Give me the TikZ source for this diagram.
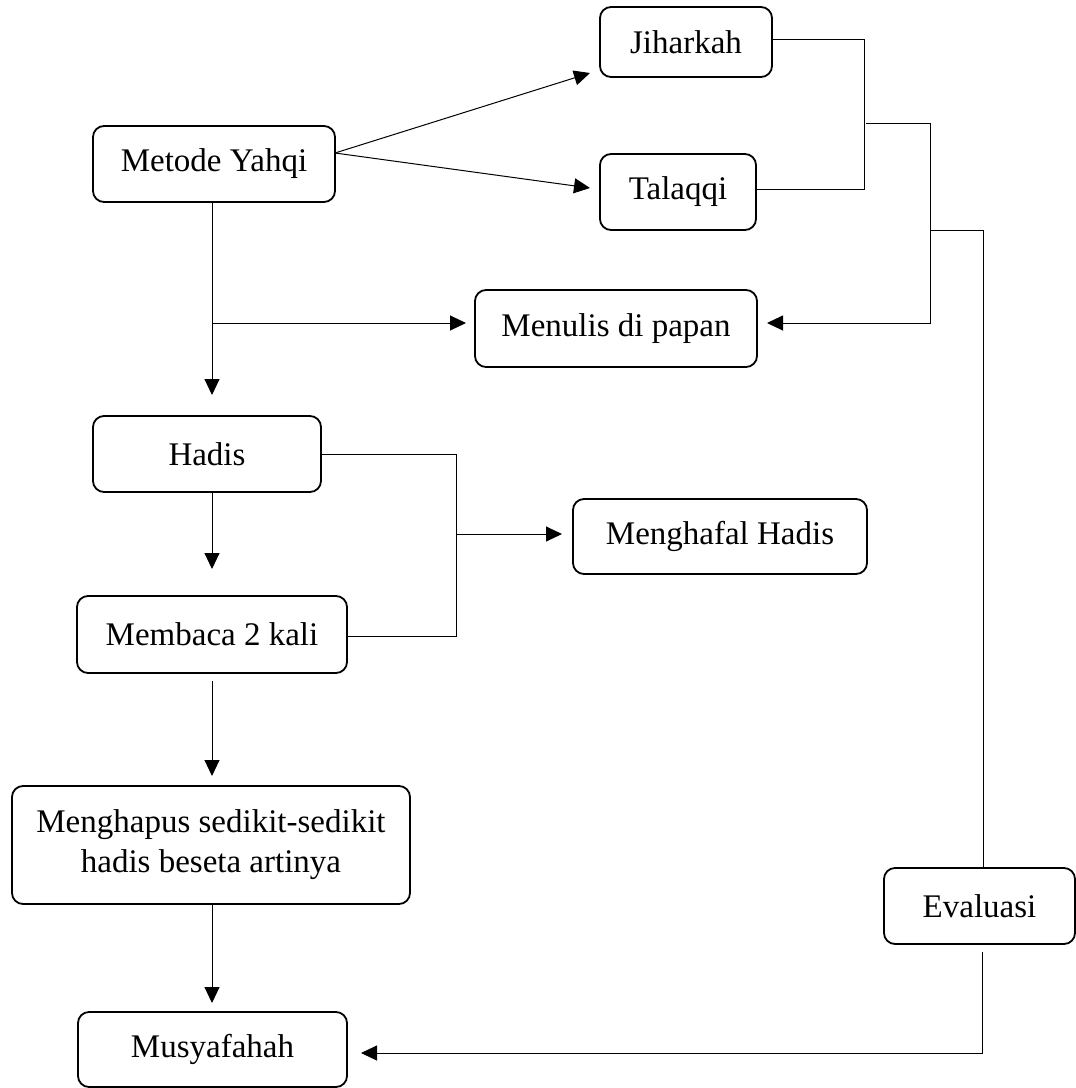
\documentclass[tikz,border=0pt]{standalone}
\usepackage{fontspec}
\setmainfont{Liberation Serif}
\usetikzlibrary{arrows.meta}
\begin{document}
\begin{tikzpicture}[x=1pt,y=-1pt,
  box/.style={draw, line width=1.8pt, rounded corners=11pt, rectangle, inner sep=0pt, align=center,
    font=\fontsize{33}{40}\selectfont},
  conn/.style={line width=1pt},
  arr/.style={line width=1pt, -{Triangle[length=16pt,width=15pt]}}]
\useasboundingbox (0,0) rectangle (1076,1088);
% nodes
\node[box, minimum width=242pt, minimum height=76pt] (metode) at (214,164) {Metode Yahqi};
\node[box, minimum width=172pt, minimum height=70pt] (jihar) at (686,42) {Jiharkah};
\node[box, minimum width=156pt, minimum height=76pt] (talaqqi) at (678,192) {Talaqqi};
\node[box, minimum width=282pt, minimum height=77pt] (menulis) at (616,328.5) {Menulis di papan};
\node[box, minimum width=228pt, minimum height=76pt] (hadis) at (207,454) {Hadis};
\node[box, minimum width=294pt, minimum height=75pt] (menghafal) at (720,536.5) {Menghafal Hadis};
\node[box, minimum width=270pt, minimum height=77pt] (membaca) at (212,634.5) {Membaca 2 kali};
\node[box, minimum width=398pt, minimum height=118pt] (menghapus) at (211,845) {Menghapus sedikit-sedikit\\hadis beseta artinya};
\node[box, minimum width=269pt, minimum height=75pt] (musya) at (212.5,1049.5) {Musyafahah};
\node[box, minimum width=191pt, minimum height=76pt] (eval) at (979.5,906) {Evaluasi};
% coordinates
\coordinate (mA) at (335,153);
\coordinate (jT) at (590,73);
\coordinate (tT) at (590,188);
\coordinate (jr) at (772,39);
\coordinate (tr) at (756,189);
\coordinate (bx) at (864,39);
\coordinate (j1) at (866,123);
\coordinate (j2) at (930,323);
\coordinate (mR) at (767,323);
\coordinate (j3) at (930,230);
\coordinate (eT) at (983,868);
\coordinate (eB) at (982,952);
\coordinate (uR) at (361,1053);
\coordinate (ms) at (212,202);
\coordinate (mh) at (212,395);
\coordinate (b1) at (212,323);
\coordinate (mL) at (466,323);
\coordinate (hs) at (212,492);
\coordinate (mbT) at (212,569);
\coordinate (hr) at (321,454);
\coordinate (bend) at (456,636);
\coordinate (mbr) at (347,636);
\coordinate (k1) at (456,534);
\coordinate (mfL) at (562,534);
\coordinate (mbs) at (212,681);
\coordinate (mpT) at (212,776);
\coordinate (mps) at (212,904);
\coordinate (muT) at (212,1003);
% connectors
\draw[arr] (mA) -- (jT);
\draw[arr] (mA) -- (tT);
\draw[conn] (jr) -- (bx) |- (tr);
\draw[arr] (j1) -| (j2) -- (mR);
\draw[conn] (j3) -| (eT);
\draw[arr] (eB) |- (uR);
\draw[arr] (ms) -- (mh);
\draw[arr] (b1) -- (mL);
\draw[arr] (hs) -- (mbT);
\draw[conn] (hr) -| (bend) -- (mbr);
\draw[arr] (k1) -- (mfL);
\draw[arr] (mbs) -- (mpT);
\draw[arr] (mps) -- (muT);
\end{tikzpicture}
\end{document}
